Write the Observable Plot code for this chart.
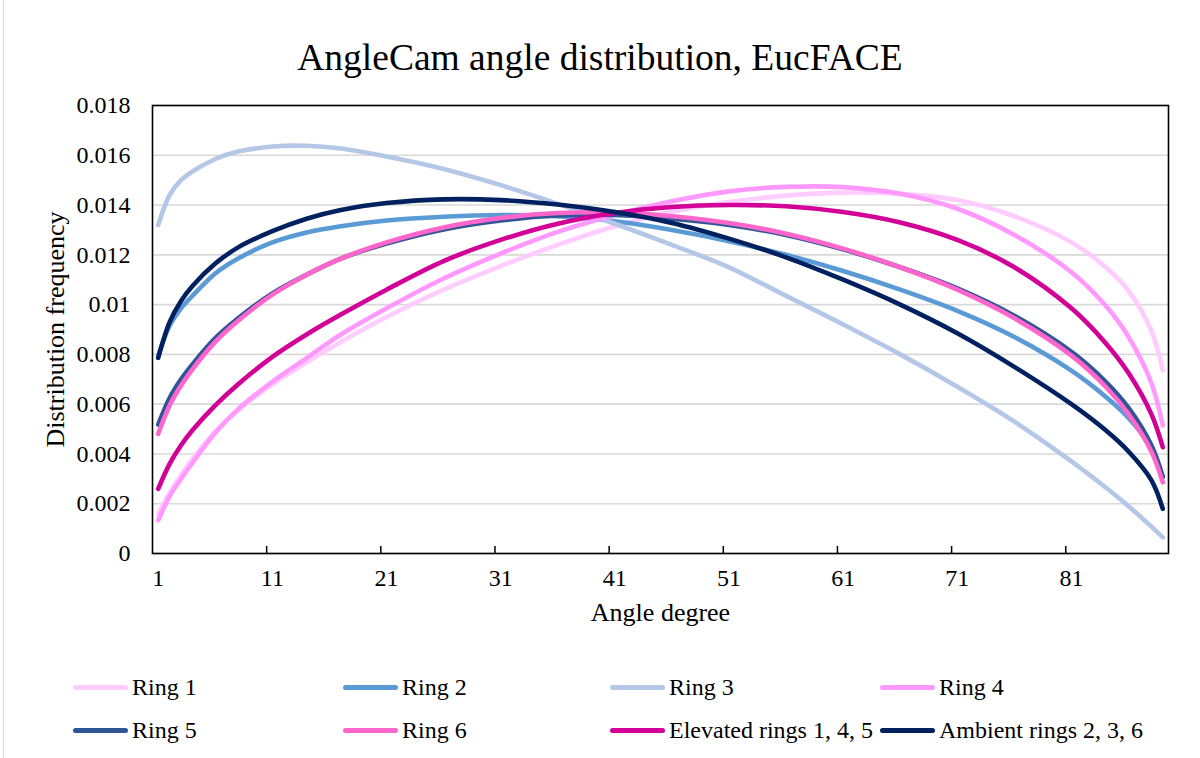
<!DOCTYPE html>
<html>
<head>
<meta charset="utf-8">
<script src="https://cdn.jsdelivr.net/npm/d3@7"></script>
<script src="https://cdn.jsdelivr.net/npm/@observablehq/plot@0.6"></script>
<style>
  body { margin: 0; background: #fff; }
  #wrap { position: relative; width: 1200px; height: 758px; overflow: hidden; background: #fff;
          font-family: "Liberation Serif", "Times New Roman", serif; color: #000; }
  #border { position: absolute; left: 3px; top: 0; width: 0; height: 758px; border-left: 1.5px solid #d9d9d9; }
  #title { position: absolute; left: 0; width: 1200px; top: 35px; text-align: center; font-size: 37.5px; line-height: 46px; }
  #chart { position: absolute; left: 0; top: 90px; }
  .item { position: absolute; font-size: 24px; line-height: 28px; white-space: nowrap; }
  .sw { display: inline-block; width: 55px; height: 5px; border-radius: 3px; vertical-align: middle; margin-right: 4px; position: relative; top: -2px; }
</style>
</head>
<body>
<div id="wrap">
  <div id="title">AngleCam angle distribution, EucFACE</div>
  <div id="chart"></div>
  <div id="legend"></div>
  <div id="border"></div>
</div>
<script>
// ---- data ----
const degrees = [1, 2, 3, 4, 6, 8, 11, 14, 17, 21, 26, 31, 36, 41, 46, 51, 56, 61, 66, 71, 76, 81, 84, 86, 88, 89];

const ring1 = [0.0016, 0.00245, 0.00315, 0.0038, 0.0049, 0.00575, 0.0068, 0.00768, 0.0085, 0.0095, 0.0106, 0.01155, 0.0124, 0.01315, 0.01373, 0.01412, 0.01438, 0.0145, 0.01445, 0.0142, 0.01355, 0.0125, 0.0115, 0.01055, 0.00895, 0.00735];
const ring2 = [0.00795, 0.00915, 0.00985, 0.01035, 0.01125, 0.01185, 0.0125, 0.0129, 0.01315, 0.01338, 0.01353, 0.0136, 0.01355, 0.01335, 0.0130, 0.01255, 0.0120, 0.01135, 0.0106, 0.00975, 0.0087, 0.00735, 0.0063, 0.00545, 0.00425, 0.00307];
const ring3 = [0.0132, 0.0144, 0.0150, 0.01535, 0.01585, 0.01615, 0.01635, 0.01638, 0.01627, 0.01595, 0.01545, 0.0148, 0.01405, 0.01325, 0.0124, 0.0115, 0.01035, 0.0092, 0.0080, 0.0067, 0.0053, 0.0037, 0.00265, 0.0019, 0.00108, 0.00065];
const ring4 = [0.00133, 0.0023, 0.0030, 0.00365, 0.00485, 0.0058, 0.0069, 0.00785, 0.0088, 0.00985, 0.01105, 0.01205, 0.01292, 0.0136, 0.01415, 0.01455, 0.01473, 0.01472, 0.01445, 0.01385, 0.0128, 0.0113, 0.00995, 0.0087, 0.00685, 0.00514];
const ring5 = [0.00518, 0.00625, 0.0070, 0.0076, 0.00865, 0.00945, 0.01045, 0.0112, 0.01185, 0.01245, 0.01302, 0.01338, 0.01358, 0.0136, 0.01345, 0.0132, 0.0128, 0.01222, 0.0115, 0.01065, 0.00955, 0.0081, 0.0069, 0.00585, 0.00435, 0.00307];
const ring6 = [0.00481, 0.00595, 0.00675, 0.0074, 0.0085, 0.00935, 0.0104, 0.0112, 0.01185, 0.0125, 0.0131, 0.01348, 0.01368, 0.0137, 0.01355, 0.01328, 0.01285, 0.01225, 0.0115, 0.0106, 0.00945, 0.00795, 0.0067, 0.0056, 0.0041, 0.00286];
const elevated = [0.0026, 0.0036, 0.00435, 0.00495, 0.00595, 0.0068, 0.0079, 0.0088, 0.0096, 0.0106, 0.01175, 0.0126, 0.01325, 0.01368, 0.01392, 0.014, 0.01395, 0.01372, 0.0133, 0.0126, 0.0115, 0.00985, 0.00845, 0.00725, 0.0056, 0.00427];
const ambient = [0.00786, 0.0093, 0.01015, 0.01075, 0.01165, 0.0123, 0.01295, 0.01345, 0.0138, 0.01408, 0.01423, 0.0142, 0.01402, 0.01372, 0.01328, 0.01265, 0.0119, 0.011, 0.0100, 0.00885, 0.0075, 0.006, 0.00495, 0.0041, 0.00295, 0.0018];

const seriesNames = ["Ring 1", "Ring 2", "Ring 3", "Ring 4", "Ring 5", "Ring 6", "Elevated rings 1, 4, 5", "Ambient rings 2, 3, 6"];
const seriesValues = [ring1, ring2, ring3, ring4, ring5, ring6, elevated, ambient];
const seriesColors = ["#ffccff", "#5b9bd5", "#b4c7e7", "#ff99ff", "#2f5597", "#ff66cc", "#d20096", "#002060"];

const yTicks = [0, 0.002, 0.004, 0.006, 0.008, 0.01, 0.012, 0.014, 0.016, 0.018];
const xLabels = [1, 11, 21, 31, 41, 51, 61, 71, 81];
const xBoundaries = [10.5, 20.5, 30.5, 40.5, 50.5, 60.5, 70.5, 80.5];

// ---- build table ----
const rows = [];
seriesNames.forEach((name, i) => {
  degrees.forEach((d, j) => rows.push({series: name, angle: d, value: seriesValues[i][j]}));
});

const W = 1200, H = 550, mt = 15, mb = 87, ml = 152, mr = 32;
const innerH = H - mt - mb;
const font = '"Liberation Serif", "Times New Roman", serif';

const chart = Plot.plot({
  width: W, height: H,
  marginTop: mt, marginBottom: mb, marginLeft: ml, marginRight: mr,
  x: {domain: [0.5, 89.5]},
  y: {domain: [0, 0.018]},
  style: {fontFamily: font, fontSize: "24px", color: "black", background: "transparent", overflow: "visible"},
  marks: [
    Plot.gridY(yTicks, {stroke: "#d9d9d9", strokeOpacity: 1, strokeWidth: 1.6}),
    ...seriesNames.map((name, i) =>
      Plot.line(rows.filter(r => r.series === name), {
        x: "angle", y: "value", stroke: seriesColors[i], strokeWidth: 4.6,
        strokeLinecap: "round", strokeLinejoin: "round", curve: "catmull-rom"
      })
    ),
    Plot.frame({stroke: "black", strokeWidth: 1.6}),
    Plot.tickX(xBoundaries, {x: d => d, stroke: "black", strokeWidth: 1.5, insetTop: innerH - 7}),
    Plot.axisY(yTicks, {tickSize: 0, tickPadding: 22, fontSize: 24, tickFormat: d => String(+d.toFixed(3)), label: null}),
    Plot.axisX(xLabels, {tickSize: 0, tickPadding: 15, fontSize: 24, tickFormat: d => String(d), label: null}),
    Plot.text(["Distribution frequency"], {text: d => d, frameAnchor: "left", textAnchor: "middle", dx: -97, rotate: -90, fontSize: 26, fill: "black"}),
    Plot.text(["Angle degree"], {text: d => d, frameAnchor: "bottom", dy: 67, fontSize: 26, fill: "black"})
  ]
});
document.getElementById("chart").appendChild(chart);

// ---- legend ----
const legendCols = [73, 343, 610, 880];
const legendRows = [687, 730];
const legend = document.getElementById("legend");
seriesNames.forEach((name, i) => {
  const div = document.createElement("div");
  div.className = "item";
  div.style.left = legendCols[i % 4] + "px";
  div.style.top = (legendRows[Math.floor(i / 4)] - 14) + "px";
  const sw = document.createElement("span");
  sw.className = "sw";
  sw.style.background = seriesColors[i];
  div.appendChild(sw);
  div.appendChild(document.createTextNode(name));
  legend.appendChild(div);
});
</script>
</body>
</html>
